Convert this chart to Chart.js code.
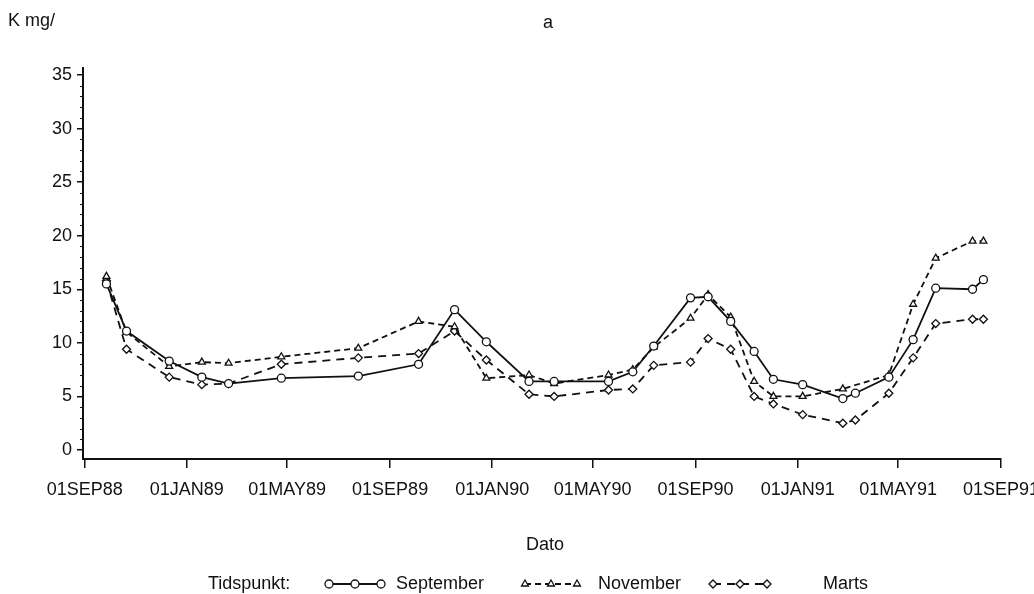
<!DOCTYPE html>
<html>
<head>
<meta charset="utf-8">
<script src="https://cdn.jsdelivr.net/npm/chart.js@4/dist/chart.umd.min.js"></script>
<style>
  html, body { margin: 0; padding: 0; background: #fff; }
  #wrap { position: relative; width: 1034px; height: 594px; }
</style>
</head>
<body>
<div id="wrap"><canvas id="c" width="1034" height="594"></canvas></div>
<script>
// Sampling dates and K (mg/l) per sampling round
const sampleDates = [
  '1988-09-27','1988-10-21','1988-12-11','1989-01-19','1989-02-20','1989-04-24',
  '1989-07-25','1989-10-05','1989-11-17','1989-12-25','1990-02-14','1990-03-16',
  '1990-05-20','1990-06-18','1990-07-13','1990-08-26','1990-09-16','1990-10-13',
  '1990-11-10','1990-12-03','1991-01-07','1991-02-24','1991-03-11','1991-04-20',
  '1991-05-19','1991-06-15','1991-07-29','1991-08-11'
];
const september = [15.5, 11.1, 8.3, 6.8, 6.2, 6.7, 6.9, 8.0, 13.1, 10.1, 6.4, 6.4,
                   6.4, 7.3, 9.7, 14.2, 14.3, 12.0, 9.2, 6.6, 6.1, 4.8, 5.3, 6.8,
                   10.3, 15.1, 15.0, 15.9];
const november  = [16.2, 11.0, 7.8, 8.2, 8.1, 8.7, 9.5, 12.0, 11.5, 6.7, 7.0, 6.2,
                   7.0, 7.5, 9.6, 12.3, 14.5, 12.4, 6.4, 5.0, 5.0, 5.7, null, 7.0,
                   13.6, 17.9, 19.5, 19.5];
const marts     = [15.8, 9.4, 6.8, 6.1, 6.2, 8.0, 8.6, 9.0, 11.1, 8.4, 5.2, 5.0,
                   5.6, 5.7, 7.9, 8.2, 10.4, 9.4, 5.0, 4.3, 3.3, 2.5, 2.8, 5.3,
                   8.6, 11.8, 12.2, 12.2];

const seriesNames = ['September', 'November', 'Marts'];
const tickDates  = ['1988-09-01','1989-01-01','1989-05-01','1989-09-01','1990-01-01',
                    '1990-05-01','1990-09-01','1991-01-01','1991-05-01','1991-09-01'];
const tickLabels = ['01SEP88','01JAN89','01MAY89','01SEP89','01JAN90',
                    '01MAY90','01SEP90','01JAN91','01MAY91','01SEP91'];
const yTickValues = [0, 5, 10, 15, 20, 25, 30, 35];

const origin = Date.UTC(1988, 8, 1);
function dayNumber(s) {
  const [y, m, d] = s.split('-').map(Number);
  return Math.round((Date.UTC(y, m - 1, d) - origin) / 86400000);
}
const sampleDays = sampleDates.map(dayNumber);
const tickDays = tickDates.map(dayNumber);
const toPoints = vals => vals.map((v, i) => ({ x: sampleDays[i], y: v }));

const INK = '#111';
const FONT = { family: "'Liberation Sans', Arial, sans-serif", size: 18 };
const FONT_CSS = "18px 'Liberation Sans', Arial, sans-serif";

const styles = [
  { pointStyle: 'circle',   dash: [] },
  { pointStyle: 'triangle', dash: [6, 4] },
  { pointStyle: 'rectRot',  dash: [8, 6] }
];

const datasets = [september, november, marts].map((vals, k) => ({
  label: seriesNames[k],
  data: toPoints(vals),
  borderColor: INK,
  borderWidth: 1.8,
  borderDash: styles[k].dash,
  pointStyle: styles[k].pointStyle,
  pointRadius: 4,
  pointBorderWidth: 1.3,
  pointBorderColor: INK,
  pointBackgroundColor: '#fff',
  spanGaps: true,
  tension: 0
}));

// Extra texts, minor y ticks and the bottom legend
const decorations = {
  id: 'decorations',
  afterDraw(chart) {
    const ctx = chart.ctx;
    const y = chart.scales.y;
    const area = chart.chartArea;
    ctx.save();
    ctx.strokeStyle = INK;
    ctx.lineWidth = 1;
    for (let v = 1; v < 35; v++) {
      if (v % 5 === 0) continue;
      const py = Math.round(y.getPixelForValue(v)) + 0.5;
      ctx.beginPath();
      ctx.moveTo(area.left - 3, py);
      ctx.lineTo(area.left, py);
      ctx.stroke();
    }

    ctx.fillStyle = INK;
    ctx.font = FONT_CSS;
    ctx.textBaseline = 'middle';
    ctx.textAlign = 'left';
    ctx.fillText('K mg/', 8, 21);
    ctx.textAlign = 'center';
    ctx.fillText('a', 548, 23);
    ctx.fillText('Dato', 545, 545);

    // legend
    const ly = 584;
    ctx.textAlign = 'left';
    ctx.fillText('Tidspunkt:', 208, ly);
    const items = [
      { x0: 329, x1: 381, tx: 396 },
      { x0: 525, x1: 577, tx: 598 },
      { x0: 713, x1: 767, tx: 823 }
    ];
    items.forEach((it, k) => {
      const ds = datasets[k];
      ctx.save();
      ctx.strokeStyle = INK;
      ctx.lineWidth = ds.borderWidth;
      ctx.setLineDash(ds.borderDash);
      ctx.beginPath();
      ctx.moveTo(it.x0, ly);
      ctx.lineTo(it.x1, ly);
      ctx.stroke();
      ctx.restore();
      ctx.save();
      ctx.fillStyle = '#fff';
      ctx.strokeStyle = INK;
      ctx.lineWidth = ds.pointBorderWidth;
      [it.x0, (it.x0 + it.x1) / 2, it.x1].forEach(px => {
        Chart.helpers.drawPoint(ctx, {
          pointStyle: ds.pointStyle, radius: ds.pointRadius,
          rotation: 0, borderWidth: ds.pointBorderWidth
        }, px, ly);
      });
      ctx.restore();
      ctx.fillStyle = INK;
      ctx.fillText(ds.label, it.tx, ly);
    });
    ctx.restore();
  }
};

new Chart(document.getElementById('c'), {
  type: 'line',
  data: { datasets },
  plugins: [decorations],
  options: {
    responsive: false,
    devicePixelRatio: 1,
    animation: false,
    layout: { padding: { top: 68, right: 33, left: 0, bottom: 0 } },
    plugins: { legend: { display: false }, title: { display: false }, tooltip: { enabled: false } },
    scales: {
      x: {
        type: 'linear',
        min: -2,
        max: 1095,
        afterBuildTicks: s => { s.ticks = tickDays.map(v => ({ value: v })); },
        afterFit: s => { s.height = 135; s.paddingLeft = 0; s.paddingRight = 0; },
        ticks: {
          autoSkip: false, maxRotation: 0, minRotation: 0,
          padding: 11, color: INK, font: FONT,
          callback: (v, i) => tickLabels[i]
        },
        grid: { drawOnChartArea: false, drawTicks: true, tickLength: 9, color: INK, lineWidth: 1.5 },
        border: { display: true, color: INK, width: 2 }
      },
      y: {
        type: 'linear',
        min: -0.84,
        max: 35.65,
        afterBuildTicks: s => { s.ticks = yTickValues.map(v => ({ value: v })); },
        afterFit: s => { s.width = 83; s.paddingTop = 0; s.paddingBottom = 0; },
        ticks: { padding: 5, color: INK, font: FONT, callback: v => String(v) },
        grid: { drawOnChartArea: false, drawTicks: true, tickLength: 6, color: INK, lineWidth: 1.5 },
        border: { display: true, color: INK, width: 2 }
      }
    }
  }
});
</script>
</body>
</html>
